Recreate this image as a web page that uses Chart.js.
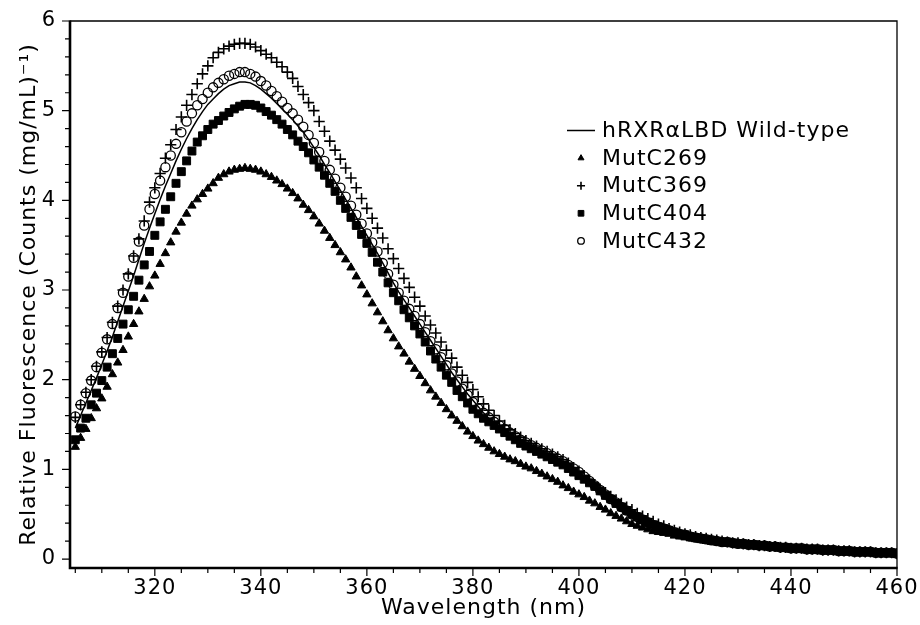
<!DOCTYPE html>
<html><head><meta charset="utf-8">
<style>html,body{margin:0;padding:0;background:#fff}#wrap{width:920px;height:625px;position:relative}canvas{display:block}</style>
<script src="https://cdn.jsdelivr.net/npm/chart.js@4.4.1/dist/chart.umd.min.js"></script>
</head><body><div id="wrap"><canvas id="c" width="920" height="625"></canvas></div>
<script>
// ---------- data ----------
const WAVELENGTH = [
305,306,307,308,309,310,311,312,313,314,
315,316,317,318,319,320,321,322,323,324,
325,326,327,328,329,330,331,332,333,334,
335,336,337,338,339,340,341,342,343,344,
345,346,347,348,349,350,351,352,353,354,
355,356,357,358,359,360,361,362,363,364,
365,366,367,368,369,370,371,372,373,374,
375,376,377,378,379,380,381,382,383,384,
385,386,387,388,389,390,391,392,393,394,
395,396,397,398,399,400,401,402,403,404,
405,406,407,408,409,410,411,412,413,414,
415,416,417,418,419,420,421,422,423,424,
425,426,427,428,429,430,431,432,433,434,
435,436,437,438,439,440,441,442,443,444,
445,446,447,448,449,450,451,452,453,454,
455,456,457,458,459,460];

const WILD_TYPE = [
1.46,1.60,1.74,1.88,2.02,2.17,2.32,2.48,2.65,2.82,
2.99,3.16,3.34,3.52,3.69,3.85,4.01,4.16,4.30,4.44,
4.57,4.69,4.80,4.90,4.99,5.07,5.13,5.19,5.24,5.28,
5.30,5.32,5.32,5.31,5.28,5.24,5.19,5.14,5.08,5.02,
4.96,4.90,4.83,4.76,4.68,4.59,4.50,4.40,4.31,4.21,
4.11,4.01,3.91,3.81,3.71,3.61,3.51,3.41,3.30,3.19,
3.08,2.98,2.89,2.80,2.71,2.62,2.53,2.44,2.35,2.26,
2.17,2.08,2.00,1.92,1.84,1.77,1.70,1.63,1.57,1.52,
1.47,1.43,1.39,1.35,1.31,1.28,1.25,1.22,1.19,1.16,
1.13,1.10,1.07,1.03,0.99,0.95,0.90,0.85,0.80,0.75,
0.70,0.65,0.61,0.57,0.53,0.49,0.46,0.43,0.40,0.37,
0.35,0.33,0.31,0.29,0.28,0.27,0.25,0.24,0.23,0.22,
0.21,0.20,0.19,0.19,0.18,0.17,0.17,0.16,0.16,0.15,
0.15,0.14,0.14,0.13,0.13,0.12,0.12,0.12,0.11,0.11,
0.11,0.10,0.10,0.10,0.09,0.09,0.09,0.08,0.08,0.08,
0.08,0.07,0.07,0.07,0.07,0.06];

const MUT_C269 = [
1.25,1.35,1.45,1.57,1.68,1.79,1.92,2.06,2.19,2.33,
2.48,2.62,2.76,2.90,3.04,3.16,3.29,3.41,3.53,3.65,
3.75,3.85,3.94,4.01,4.07,4.13,4.19,4.25,4.29,4.32,
4.34,4.35,4.36,4.35,4.34,4.32,4.29,4.26,4.22,4.18,
4.13,4.08,4.02,3.95,3.89,3.82,3.74,3.66,3.58,3.50,
3.42,3.34,3.25,3.15,3.05,2.95,2.85,2.75,2.65,2.55,
2.46,2.37,2.29,2.20,2.12,2.04,1.96,1.88,1.81,1.74,
1.67,1.60,1.54,1.48,1.42,1.37,1.32,1.28,1.24,1.20,
1.17,1.14,1.11,1.09,1.06,1.03,1.01,0.98,0.95,0.92,
0.89,0.86,0.82,0.79,0.75,0.72,0.69,0.65,0.62,0.58,
0.55,0.51,0.48,0.45,0.42,0.39,0.37,0.35,0.33,0.31,
0.30,0.29,0.28,0.26,0.25,0.24,0.23,0.22,0.21,0.20,
0.19,0.19,0.18,0.17,0.17,0.16,0.16,0.15,0.15,0.14,
0.14,0.13,0.13,0.12,0.12,0.11,0.11,0.11,0.10,0.10,
0.10,0.09,0.09,0.09,0.08,0.08,0.08,0.08,0.07,0.07,
0.07,0.07,0.06,0.06,0.06,0.06];

const MUT_C369 = [
1.58,1.72,1.86,2.00,2.15,2.31,2.47,2.64,2.82,3.00,
3.18,3.38,3.57,3.77,3.98,4.14,4.30,4.47,4.62,4.79,
4.93,5.06,5.18,5.30,5.41,5.50,5.59,5.65,5.69,5.72,
5.74,5.75,5.75,5.74,5.71,5.67,5.63,5.59,5.54,5.49,
5.43,5.36,5.27,5.18,5.09,5.00,4.88,4.77,4.66,4.56,
4.46,4.36,4.25,4.14,4.02,3.91,3.80,3.69,3.58,3.46,
3.35,3.24,3.13,3.03,2.92,2.82,2.71,2.61,2.52,2.42,
2.33,2.24,2.14,2.05,1.97,1.89,1.81,1.73,1.66,1.60,
1.54,1.49,1.44,1.40,1.36,1.32,1.29,1.26,1.23,1.20,
1.17,1.14,1.11,1.07,1.02,0.98,0.93,0.88,0.83,0.78,
0.74,0.70,0.66,0.62,0.58,0.55,0.51,0.48,0.45,0.42,
0.39,0.37,0.34,0.32,0.30,0.28,0.27,0.25,0.24,0.23,
0.22,0.21,0.20,0.19,0.18,0.18,0.17,0.16,0.16,0.15,
0.15,0.14,0.14,0.13,0.13,0.12,0.12,0.12,0.11,0.11,
0.11,0.10,0.10,0.10,0.09,0.09,0.09,0.08,0.08,0.08,
0.08,0.07,0.07,0.07,0.07,0.06];

const MUT_C404 = [
1.33,1.46,1.57,1.72,1.85,1.99,2.14,2.29,2.46,2.62,
2.78,2.93,3.11,3.28,3.43,3.61,3.76,3.90,4.04,4.19,
4.32,4.44,4.55,4.65,4.72,4.79,4.85,4.89,4.94,4.98,
5.02,5.05,5.07,5.07,5.06,5.03,4.99,4.95,4.90,4.85,
4.79,4.73,4.66,4.60,4.53,4.45,4.37,4.28,4.19,4.10,
4.00,3.91,3.81,3.72,3.62,3.52,3.42,3.31,3.20,3.08,
2.97,2.88,2.78,2.69,2.60,2.51,2.42,2.32,2.23,2.14,
2.05,1.97,1.88,1.81,1.74,1.67,1.62,1.57,1.53,1.49,
1.45,1.41,1.37,1.33,1.29,1.26,1.23,1.20,1.17,1.14,
1.11,1.08,1.05,1.01,0.97,0.93,0.89,0.85,0.81,0.76,
0.71,0.67,0.62,0.58,0.54,0.50,0.47,0.44,0.41,0.38,
0.36,0.34,0.32,0.30,0.28,0.27,0.25,0.24,0.23,0.22,
0.21,0.20,0.19,0.19,0.18,0.17,0.17,0.16,0.16,0.15,
0.15,0.14,0.14,0.13,0.13,0.12,0.12,0.12,0.11,0.11,
0.11,0.10,0.10,0.10,0.09,0.09,0.09,0.08,0.08,0.08,
0.08,0.07,0.07,0.07,0.07,0.06];

const MUT_C432 = [
1.59,1.72,1.85,1.99,2.14,2.30,2.45,2.62,2.80,2.97,
3.15,3.36,3.54,3.72,3.90,4.07,4.22,4.37,4.50,4.63,
4.76,4.88,4.97,5.06,5.13,5.20,5.26,5.31,5.35,5.39,
5.41,5.43,5.43,5.41,5.38,5.33,5.28,5.22,5.16,5.10,
5.03,4.97,4.90,4.82,4.73,4.64,4.54,4.44,4.34,4.24,
4.14,4.04,3.94,3.84,3.74,3.63,3.53,3.43,3.30,3.18,
3.06,2.97,2.88,2.79,2.71,2.62,2.53,2.43,2.34,2.25,
2.16,2.07,1.98,1.90,1.83,1.75,1.68,1.63,1.58,1.53,
1.49,1.45,1.41,1.37,1.33,1.30,1.27,1.24,1.21,1.18,
1.15,1.12,1.09,1.05,1.01,0.97,0.92,0.87,0.82,0.77,
0.72,0.67,0.63,0.58,0.54,0.50,0.47,0.44,0.41,0.38,
0.36,0.34,0.32,0.30,0.28,0.27,0.25,0.24,0.23,0.22,
0.21,0.20,0.19,0.19,0.18,0.17,0.17,0.16,0.16,0.15,
0.15,0.14,0.14,0.13,0.13,0.12,0.12,0.12,0.11,0.11,
0.11,0.10,0.10,0.10,0.09,0.09,0.09,0.08,0.08,0.08,
0.08,0.07,0.07,0.07,0.07,0.06];

const SERIES_LABELS = ['hRXR\u03b1LBD Wild-type','MutC269','MutC369','MutC404','MutC432'];
const X_MAJOR_TICKS = [320,340,360,380,400,420,440,460];
const X_MINOR_TICKS = [305,310,315,325,330,335,345,350,355,365,370,375,385,390,395,405,410,415,425,430,435,445,450,455];
const Y_MAJOR_TICKS = [0,1,2,3,4,5,6];
const Y_MINOR_TICKS = [0.2,0.4,0.6,0.8,1.2,1.4,1.6,1.8,2.2,2.4,2.6,2.8,3.2,3.4,3.6,3.8,4.2,4.4,4.6,4.8,5.2,5.4,5.6,5.8];
const X_TITLE = 'Wavelength (nm)';
const Y_TITLE = 'Relative Fluorescence (Counts (mg/mL)\u207b\u00b9)';

// ---------- chart ----------
const FONT = 'DejaVu Sans';
const toXY = (ys) => WAVELENGTH.map((x, i) => ({x: x, y: ys[i]}));

const STYLES = [
  {pointStyle: false, radius: 0},
  {pointStyle: 'triangle', radius: 4.8, fill: '#000', bw: 1},
  {pointStyle: 'cross', radius: 5.6, fill: '#000', bw: 1.6},
  {pointStyle: 'rect', radius: 5.6, fill: '#000', bw: 1},
  {pointStyle: 'circle', radius: 4.6, fill: 'rgba(0,0,0,0)', bw: 1.3}
];
const VALUES = [WILD_TYPE, MUT_C269, MUT_C369, MUT_C404, MUT_C432];

const datasets = VALUES.map((vals, i) => {
  const s = STYLES[i];
  if (i === 0) {
    return {label: SERIES_LABELS[i], data: toXY(vals), showLine: true, borderColor: '#000',
      borderWidth: 1.5, pointRadius: 0, fill: false, order: 5};
  }
  return {label: SERIES_LABELS[i], data: toXY(vals), showLine: false, pointStyle: s.pointStyle,
    pointRadius: s.radius, pointBackgroundColor: s.fill, pointBorderColor: '#000',
    pointBorderWidth: s.bw, order: 5 - i};
});

function setSpacing(chart) {
  try { chart.ctx.letterSpacing = '1px'; } catch (e) {}
}

const framePlugin = {
  id: 'frame',
  afterInit: setSpacing,
  beforeUpdate: setSpacing,
  beforeDraw: setSpacing,
  afterDraw(chart) {
    const ctx = chart.ctx;
    const a = chart.chartArea;
    const xs = chart.scales.x, ys = chart.scales.y;
    ctx.save();
    ctx.strokeStyle = '#000';
    // thin top & right
    ctx.lineWidth = 1.3;
    ctx.beginPath();
    ctx.moveTo(a.left, a.top); ctx.lineTo(a.right, a.top); ctx.lineTo(a.right, a.bottom);
    ctx.stroke();
    // ticks
    ctx.lineWidth = 1.2;
    ctx.beginPath();
    Y_MAJOR_TICKS.forEach(v => { const p = ys.getPixelForValue(v); ctx.moveTo(a.left - 8, p); ctx.lineTo(a.left, p); });
    Y_MINOR_TICKS.forEach(v => { const p = ys.getPixelForValue(v); ctx.moveTo(a.left - 5, p); ctx.lineTo(a.left, p); });
    X_MAJOR_TICKS.forEach(v => { const p = xs.getPixelForValue(v); ctx.moveTo(p, a.bottom); ctx.lineTo(p, a.bottom + 8); });
    X_MINOR_TICKS.forEach(v => { const p = xs.getPixelForValue(v); ctx.moveTo(p, a.bottom); ctx.lineTo(p, a.bottom + 5); });
    ctx.stroke();
    // thick left & bottom axes
    ctx.lineWidth = 2.6;
    ctx.beginPath();
    ctx.moveTo(a.left, a.top - 0.6); ctx.lineTo(a.left, a.bottom); ctx.lineTo(a.right + 0.6, a.bottom);
    ctx.stroke();

    // legend
    const lx = 581, tx = 602, y0 = 130.5, dy = 27.6;
    ctx.font = '22px "' + FONT + '"';
    ctx.fillStyle = '#000';
    ctx.textAlign = 'left';
    ctx.textBaseline = 'middle';
    SERIES_LABELS.forEach((lab, i) => {
      const y = y0 + i * dy;
      const s = STYLES[i];
      if (i === 0) {
        ctx.lineWidth = 1.5;
        ctx.beginPath(); ctx.moveTo(567, y); ctx.lineTo(595, y); ctx.stroke();
      } else {
        ctx.fillStyle = s.fill; ctx.strokeStyle = '#000'; ctx.lineWidth = s.bw;
        Chart.helpers.drawPoint(ctx, {pointStyle: s.pointStyle, radius: s.radius * 0.72, rotation: 0, borderWidth: s.bw}, lx, y);
      }
      ctx.fillStyle = '#000';
      ctx.fillText(lab, tx, y + 1);
    });
    ctx.restore();
  }
};

new Chart(document.getElementById('c'), {
  type: 'scatter',
  data: {datasets: datasets},
  options: {
    responsive: false,
    animation: false,
    devicePixelRatio: 1,
    layout: {padding: {left: 0, right: 23, top: 21, bottom: 0}},
    plugins: {legend: {display: false}, tooltip: {enabled: false}},
    scales: {
      x: {
        type: 'linear', min: 304, max: 460,
        afterBuildTicks: (s) => { s.ticks = X_MAJOR_TICKS.map(v => ({value: v})); },
        afterFit: (s) => { s.height = 57; s.paddingLeft = 0; s.paddingRight = 0; },
        grid: {display: false, drawTicks: false, tickLength: 0},
        border: {display: false},
        ticks: {font: {family: FONT, size: 21}, color: '#000', padding: 8, maxRotation: 0, autoSkip: false,
          callback: (v) => String(v)},
        title: {display: true, text: X_TITLE, color: '#000', font: {family: FONT, size: 22}, padding: {top: 0, bottom: 4}}
      },
      y: {
        type: 'linear', min: -0.1, max: 6,
        afterBuildTicks: (s) => { s.ticks = Y_MAJOR_TICKS.map(v => ({value: v})); },
        afterFit: (s) => { s.width = 70; s.paddingTop = 0; s.paddingBottom = 0; },
        grid: {display: false, drawTicks: false, tickLength: 0},
        border: {display: false},
        ticks: {font: {family: FONT, size: 21}, color: '#000', padding: 14, callback: (v) => String(v)},
        title: {display: true, text: Y_TITLE, color: '#000', font: {family: FONT, size: 22}, padding: {top: 16, bottom: 0}}
      }
    }
  },
  plugins: [framePlugin]
});
</script>
</body></html>
